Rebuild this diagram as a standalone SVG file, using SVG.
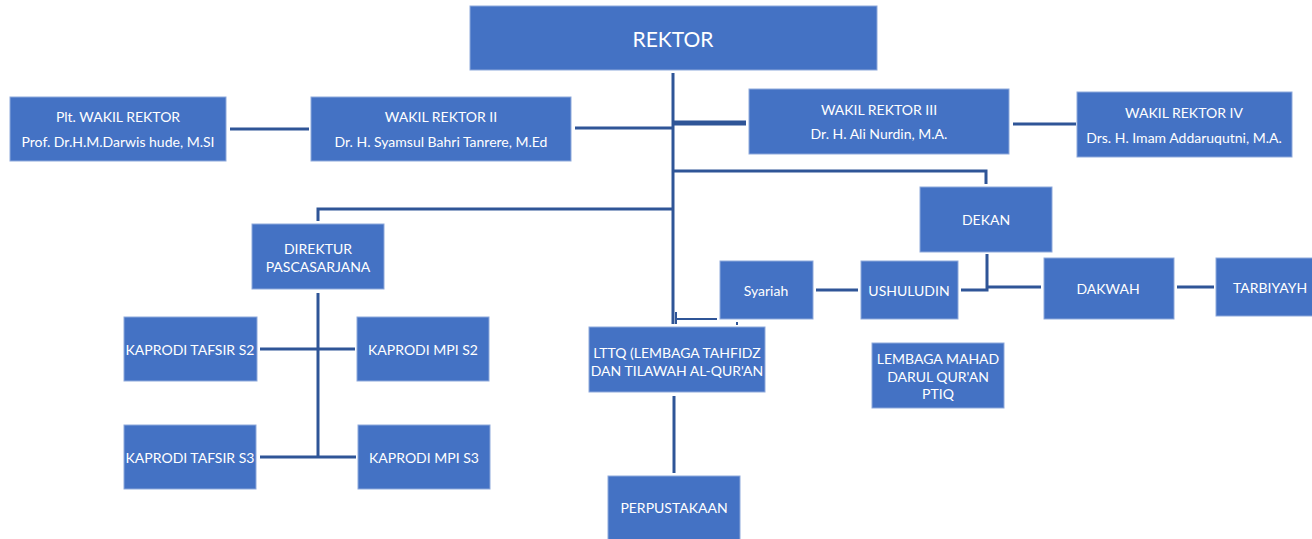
<svg xmlns="http://www.w3.org/2000/svg" width="1312" height="539" viewBox="0 0 1312 539">
<style>
.b{fill:#4472C4;stroke:#8EA9DB;stroke-width:1}
.t{fill:#fff;font-family:Lato,"Open Sans",sans-serif;font-size:14px;text-anchor:middle;dominant-baseline:central}
.c{fill:none;stroke:#2F5597;stroke-width:3}
</style>
<rect width="1312" height="539" fill="#fff"/>
<g id="connectors">
<path class="c" d="M673 73V324"/>
<path class="c" d="M230 129H309"/>
<path class="c" d="M575 128H673"/>
<path class="c" d="M673 123H746" style="stroke-width:5"/>
<path class="c" d="M1013 124H1076"/>
<path class="c" d="M673 171H986V184"/>
<path class="c" d="M673 209H318V221"/>
<path class="c" d="M318 293V457"/>
<path class="c" d="M260 349H355"/>
<path class="c" d="M260 457H356"/>
<path class="c" d="M816 290H858"/>
<path class="c" d="M961 290H987V254"/>
<path class="c" d="M987 287H1041"/>
<path class="c" d="M1177 287H1214"/>
<path class="c" d="M676 312V324M677 319H717" style="stroke-width:2"/>
<rect x="736" y="322" width="2" height="3" fill="#2F5597"/>
<path class="c" d="M674 396V473"/>
</g>
<g id="rektor"><rect class="b" x="470" y="6" width="407" height="64"/><text class="t" x="673" y="38" style="font-size:21px">REKTOR</text></g>
<g id="plt"><rect class="b" x="10" y="97" width="216" height="64"/><text class="t" x="118" y="116">Plt. WAKIL REKTOR</text><text class="t" x="118" y="141">Prof. Dr.H.M.Darwis hude, M.SI</text></g>
<g id="wr2"><rect class="b" x="311" y="97" width="260" height="64"/><text class="t" x="441" y="116">WAKIL REKTOR II</text><text class="t" x="441" y="141">Dr. H. Syamsul Bahri Tanrere, M.Ed</text></g>
<g id="wr3"><rect class="b" x="749" y="89" width="260" height="65"/><text class="t" x="879" y="109">WAKIL REKTOR III</text><text class="t" x="879" y="133">Dr. H. Ali Nurdin, M.A.</text></g>
<g id="wr4"><rect class="b" x="1077" y="92" width="215" height="65"/><text class="t" x="1184" y="112">WAKIL REKTOR IV</text><text class="t" x="1184" y="137">Drs. H. Imam Addaruqutni, M.A.</text></g>
<g id="dekan"><rect class="b" x="920" y="187" width="132" height="65"/><text class="t" x="986" y="219">DEKAN</text></g>
<g id="direktur"><rect class="b" x="252" y="224" width="132" height="65"/><text class="t" x="318" y="248">DIREKTUR</text><text class="t" x="318" y="266">PASCASARJANA</text></g>
<g id="tafsir2"><rect class="b" x="124" y="317" width="133" height="64"/><text class="t" x="190" y="349">KAPRODI TAFSIR S2</text></g>
<g id="mpi2"><rect class="b" x="357" y="317" width="132" height="64"/><text class="t" x="423" y="349">KAPRODI MPI S2</text></g>
<g id="tafsir3"><rect class="b" x="124" y="425" width="132" height="64"/><text class="t" x="190" y="457">KAPRODI TAFSIR S3</text></g>
<g id="mpi3"><rect class="b" x="358" y="425" width="132" height="64"/><text class="t" x="424" y="457">KAPRODI MPI S3</text></g>
<g id="syariah"><rect class="b" x="720" y="261" width="93" height="58"/><text class="t" x="766" y="290">Syariah</text></g>
<g id="ushuludin"><rect class="b" x="861" y="261" width="97" height="58"/><text class="t" x="909" y="290">USHULUDIN</text></g>
<g id="dakwah"><rect class="b" x="1044" y="258" width="130" height="61"/><text class="t" x="1108" y="288">DAKWAH</text></g>
<g id="tarbiyayh"><rect class="b" x="1216" y="258" width="100" height="58"/><text class="t" x="1270" y="287">TARBIYAYH</text></g>
<g id="lttq"><rect class="b" x="589" y="327" width="176" height="65"/><text class="t" x="677" y="352">LTTQ (LEMBAGA TAHFIDZ</text><text class="t" x="677" y="370">DAN TILAWAH AL-QUR'AN</text></g>
<g id="mahad"><rect class="b" x="872" y="343" width="132" height="65"/><text class="t" x="938" y="358">LEMBAGA MAHAD</text><text class="t" x="938" y="376">DARUL QUR'AN</text><text class="t" x="938" y="393">PTIQ</text></g>
<g id="perpustakaan"><rect class="b" x="608" y="476" width="132" height="70"/><text class="t" x="674" y="507">PERPUSTAKAAN</text></g>
</svg>
